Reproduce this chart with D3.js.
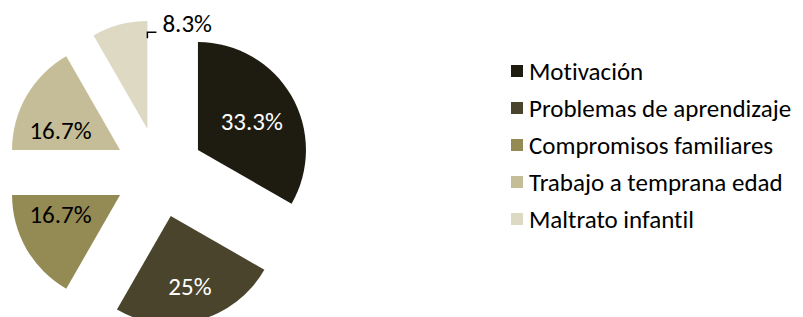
<!DOCTYPE html>
<html>
<head>
<meta charset="utf-8">
<script src="https://cdn.jsdelivr.net/npm/d3@7"></script>
<style>
  html, body { margin: 0; padding: 0; background: #fff; }
  svg { display: block; font-family: Carlito, Calibri, Lato, sans-serif; font-variant-ligatures: none; }
</style>
</head>
<body>
<svg id="chart" width="803" height="317"></svg>
<script>
// data
const categories = ["Motivación", "Problemas de aprendizaje", "Compromisos familiares", "Trabajo a temprana edad", "Maltrato infantil"];
const values = [33.3, 25, 16.7, 16.7, 8.3];
const valueLabels = ["33.3%", "25%", "16.7%", "16.7%", "8.3%"];
const colors = ["#1e1b10", "#4a442c", "#948a54", "#c4bd97", "#ddd9c3"];
const labelColors = ["#fff", "#fff", "#000", "#000", "#000"];

const svg = d3.select("#chart");

const cx = 159, cy = 172.5, R = 108, explode = 45;
const fontSize = 25;

const pie = d3.pie().sort(null).value(d => d)(values);
const arc = d3.arc().innerRadius(0).outerRadius(R);

// point on the circle, angle from 12 o'clock clockwise
const polar = (a, r) => [Math.sin(a) * r, -Math.cos(a) * r];

// label placement inside slices (fraction of radius, angle shift in degrees)
const labelPlace = [[0.565, 2], [0.68, 0], [0.58, 12], [0.58, -12], null];

const g = svg.append("g");

const slices = g.selectAll("g.slice")
    .data(pie)
    .enter()
    .append("g")
    .attr("class", "slice")
    .attr("transform", d => {
        const mid = (d.startAngle + d.endAngle) / 2;
        const [dx, dy] = polar(mid, explode);
        return `translate(${cx + dx},${cy + dy})`;
    });

slices.append("path")
    .attr("d", arc)
    .attr("fill", (d, i) => colors[i]);

slices.each(function (d, i) {
    const s = d3.select(this);
    const mid = (d.startAngle + d.endAngle) / 2;
    if (labelPlace[i]) {
        const [k, shift] = labelPlace[i];
        const [lx, ly] = polar(mid + shift * Math.PI / 180, R * k);
        s.append("text")
            .attr("x", lx)
            .attr("y", ly)
            .attr("text-anchor", "middle")
            .attr("dominant-baseline", "central")
            .attr("fill", labelColors[i])
            .style("font-size", fontSize + "px")
            .text(valueLabels[i]);
    } else {
        // small slice: label outside with an elbow leader from its right edge
        const [ex, ey] = polar(d.endAngle, R * 0.84);
        s.append("path")
            .attr("d", `M${ex},${ey}V${ey - 6}H${ex + 9}`)
            .attr("fill", "none")
            .attr("stroke", "#000")
            .attr("stroke-width", 1.5);
        s.append("text")
            .attr("x", ex + 15)
            .attr("y", ey - 15)
            .attr("text-anchor", "start")
            .attr("dominant-baseline", "central")
            .attr("fill", labelColors[i])
            .style("font-size", fontSize + "px")
            .text(valueLabels[i]);
    }
});

// legend
const legend = svg.append("g").attr("transform", "translate(511,71)");
const items = legend.selectAll("g.legend_item")
    .data(categories)
    .enter()
    .append("g")
    .attr("class", "legend_item")
    .attr("transform", (d, i) => `translate(0,${i * 37})`);

items.append("rect")
    .attr("x", 0)
    .attr("y", -6)
    .attr("width", 12)
    .attr("height", 12)
    .attr("fill", (d, i) => colors[i]);

items.append("text")
    .attr("x", 18)
    .attr("y", 0)
    .attr("dominant-baseline", "central")
    .attr("fill", "#000")
    .style("font-size", "25px")
    .text(d => d);
</script>
</body>
</html>
